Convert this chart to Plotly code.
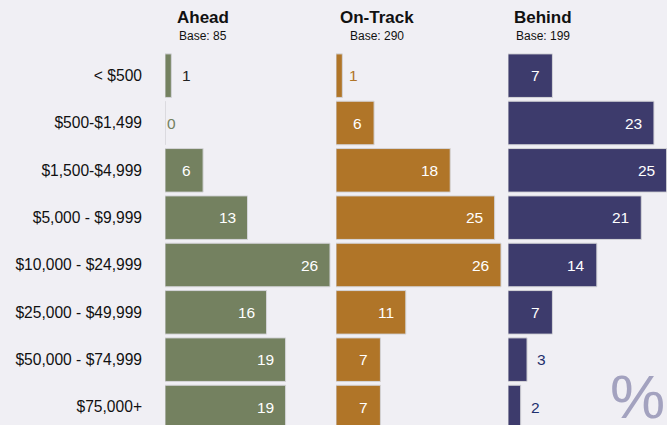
import plotly.graph_objects as go

categories = ["< $500", "$500-$1,499", "$1,500-$4,999", "$5,000 - $9,999",
              "$10,000 - $24,999", "$25,000 - $49,999", "$50,000 - $74,999", "$75,000+"]
ahead = [1, 0, 6, 13, 26, 16, 19, 19]
on_track = [1, 6, 18, 25, 26, 11, 7, 7]
behind = [7, 23, 25, 21, 14, 7, 3, 2]
groups = ["Ahead", "On-Track", "Behind"]
bases = [85, 290, 199]
colors = ["#748160", "#b07528", "#3d3b6c"]
outside_colors = ["#222222", "#b07528", "#1f2f6e"]
outside_pad = [9, 5, 8]

W, H = 667, 425
FONT = "Liberation Sans, Arial, sans-serif"
BG = "#f0eff4"

fig = go.Figure()
series = [ahead, on_track, behind]
axes = ["x", "x2", "x3"]
for i, vals in enumerate(series):
    fig.add_trace(go.Bar(
        y=categories, x=vals, orientation="h", xaxis=axes[i], yaxis="y",
        marker=dict(color=colors[i], line=dict(color="#d4d4d8", width=1)),
        width=0.92, showlegend=False, hoverinfo="x+y",
    ))

# px layout
scale = 165 / 26.0  # px per unit
dom_px = [(165, 336), (336, 508), (508, 667)]
ml = 165
mr = 0
plot_w = W - ml - mr

def frac(px):
    return (px - ml) / plot_w

layout_axes = {}
for i, (a, b) in enumerate(dom_px):
    key = "xaxis" if i == 0 else f"xaxis{i+1}"
    layout_axes[key] = dict(
        domain=[frac(a), frac(b)], range=[0, (b - a) / scale],
        showgrid=False, zeroline=False, showticklabels=False, ticks="",
        anchor="y", fixedrange=True,
    )

annotations = []
for i, vals in enumerate(series):
    xref = axes[i]
    for cat, v in zip(categories, vals):
        if v >= 5:
            annotations.append(dict(x=v, y=cat, xref=xref, yref="y", text=str(v),
                                    showarrow=False, xanchor="right", xshift=-10,
                                    font=dict(family=FONT, size=15.5, color="white")))
        elif v == 0:
            annotations.append(dict(x=v, y=cat, xref=xref, yref="y", text=str(v),
                                    showarrow=False, xanchor="left", xshift=0,
                                    font=dict(family=FONT, size=15.5, color=colors[0])))
        else:
            annotations.append(dict(x=v, y=cat, xref=xref, yref="y", text=str(v),
                                    showarrow=False, xanchor="left", xshift=outside_pad[i],
                                    font=dict(family=FONT, size=15.5, color=outside_colors[i])))

header_cx = [203, 377, 543]
for g, b, cx in zip(groups, bases, header_cx):
    annotations.append(dict(x=frac(cx), y=1 + (52 - 18) / (H - 52), xref="paper", yref="paper",
                            text=f"<b>{g}</b>", showarrow=False, xanchor="center", yanchor="middle",
                            font=dict(family=FONT, size=17, color="#111111")))
    annotations.append(dict(x=frac(cx), y=1 + (52 - 36) / (H - 52), xref="paper", yref="paper",
                            text=f"Base: {b}", showarrow=False, xanchor="center", yanchor="middle",
                            font=dict(family=FONT, size=12, color="#111111")))

annotations.append(dict(x=frac(637), y=(425 - 396) / (H - 52), xref="paper", yref="paper",
                        text="%", showarrow=False, xanchor="center", yanchor="middle",
                        font=dict(family=FONT, size=62, color="#a3a2bf")))

fig.update_layout(
    width=W, height=H,
    margin=dict(l=ml, r=mr, t=52, b=0, pad=0),
    paper_bgcolor=BG, plot_bgcolor=BG,
    bargap=0.08,
    yaxis=dict(categoryorder="array", categoryarray=categories,
               range=[7.38, -0.5], showgrid=False, zeroline=False, ticks="",
               ticklabelstandoff=22, fixedrange=True,
               tickfont=dict(family=FONT, size=15.6, color="#111111")),
    annotations=annotations,
    **layout_axes,
)

fig.write_html("out.html", config={"displayModeBar": False},
               post_script="document.body.style.margin='0';document.body.style.overflow='hidden';document.body.style.background='%s';" % BG)
